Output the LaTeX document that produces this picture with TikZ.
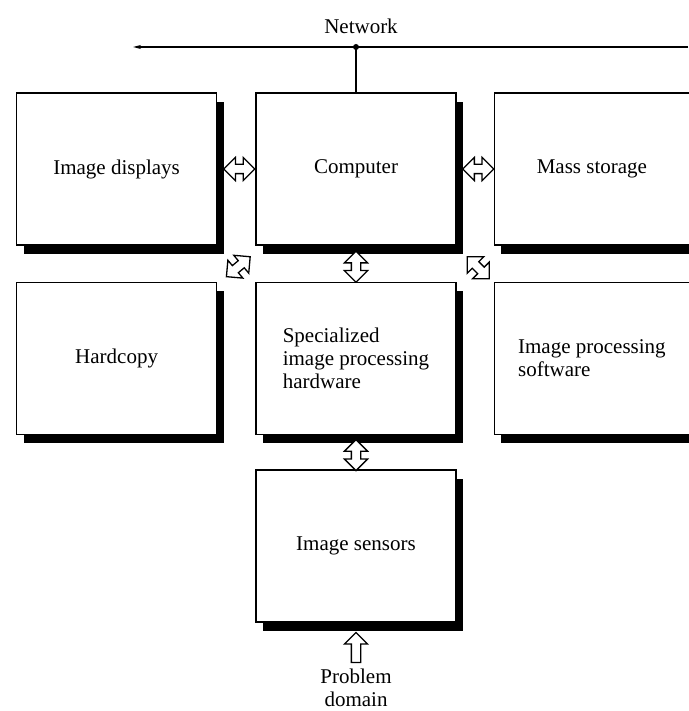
\documentclass[tikz,border=0pt]{standalone}
\usepackage{fontspec}
\setmainfont{Liberation Serif}
\usetikzlibrary{positioning, calc, shapes.arrows, shadows, arrows.meta}
\tikzset{
  box/.style={rectangle, draw=black, fill=white, line width=1.4pt,
    minimum width=200pt, minimum height=152pt, font=\fontsize{21}{23}\selectfont,
    drop shadow={shadow xshift=7pt, shadow yshift=-9pt, opacity=1, fill=black}},
  edgebox/.style={box, minimum width=195pt},
  dblarrow/.style={double arrow, draw=black, fill=white, line width=1.3pt,
    minimum height=31pt, minimum width=22pt, inner sep=4pt, double arrow head extend=7pt},
  uparrow/.style={single arrow, draw=black, fill=white, line width=1.3pt,
    minimum height=30pt, minimum width=22pt, inner sep=4pt, single arrow head extend=7pt,
    shape border rotate=90},
  netline/.style={line width=1.5pt, color=black}
}
\begin{document}
\begin{tikzpicture}[x=1pt, y=1pt]
  \useasboundingbox (0,0) rectangle (688,-711);

  % Boxes
  \node[box] (comp) at (356,-169) {Computer};
  \node[box, left=38pt of comp] (disp) {Image displays};
  \node[edgebox, right=37pt of comp] (mass) {Mass storage};
  \node[box, below=36pt of comp, align=left] (spec) {Specialized\\image processing\\hardware};
  \node[box, left=38pt of spec] (hard) {Hardcopy};
  \node[edgebox, right=37pt of spec, align=left] (soft) {Image processing\\software};
  \node[box, below=34pt of spec] (sens) {Image sensors};

  % Network
  \coordinate (netL) at (133,-47);
  \coordinate (netR) at (688,-47);
  \coordinate (netJ) at (comp.north |- netL);
  \draw[netline, -{Stealth[length=8pt, width=4pt]}] (netR) -- (netL);
  \fill (netJ) circle (3pt);
  \draw[netline] (netJ) -- (comp.north);
  \node[font=\fontsize{21}{23}\selectfont, above=10pt of netJ, xshift=5pt] (net) {Network};

  % Arrows
  \node[dblarrow] (a1) at ($(disp.east)!0.5!(comp.west)+(3,0)$) {};
  \node[dblarrow] (a2) at ($(comp.east)!0.5!(mass.west)+(3,0)$) {};
  \node[dblarrow, shape border rotate=90] (a3) at ($(comp.south)!0.5!(spec.north)+(0,-3)$) {};
  \node[dblarrow, shape border rotate=90] (a4) at ($(spec.south)!0.5!(sens.north)+(0,-3)$) {};
  \node[dblarrow, rotate=40] (a5) at ($(hard.north east)!0.5!(comp.south west)+(2,-3)$) {};
  \node[dblarrow, rotate=-45] (a6) at ($(comp.south east)!0.5!(soft.north west)+(3,-4)$) {};
  \node[uparrow, below=9pt of sens] (a7) {};
  \node[below=2pt of a7, align=center, font=\fontsize{21}{23}\selectfont] (dom) {Problem\\domain};

\end{tikzpicture}
\end{document}
